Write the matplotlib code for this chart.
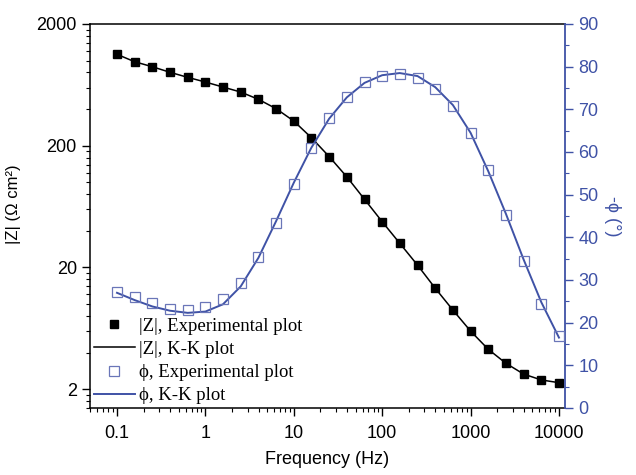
import matplotlib
matplotlib.use("Agg")
import matplotlib.pyplot as plt
from matplotlib.ticker import FixedLocator, NullFormatter, MultipleLocator
from matplotlib.lines import Line2D

# ---- data ----
freq = [0.1, 0.158, 0.251, 0.398, 0.631, 1.0, 1.58, 2.51, 3.98, 6.31,
        10.0, 15.8, 25.1, 39.8, 63.1, 100, 158, 251, 398, 631,
        1000, 1585, 2512, 3981, 6310, 10000]
z_exp = [1127, 980, 891, 802, 729, 667, 607, 552, 481, 403,
         319, 233, 163, 111, 72.6, 47.5, 31.6, 20.9, 13.5, 8.93,
         6.0, 4.25, 3.26, 2.66, 2.38, 2.26]
z_kk = [1127, 980, 891, 802, 729, 667, 607, 552, 481, 403,
        319, 233, 163, 111, 72.6, 47.5, 31.6, 20.9, 13.5, 8.93,
        6.0, 4.25, 3.26, 2.66, 2.38, 2.26]
phi_exp = [27.1, 25.9, 24.5, 23.2, 23.0, 23.6, 25.5, 29.2, 35.4, 43.4,
           52.5, 61.0, 67.9, 73.0, 76.3, 77.9, 78.3, 77.3, 74.8, 70.8,
           64.4, 55.8, 45.2, 34.4, 24.4, 16.9]
phi_kk = [27.0, 25.3, 23.8, 22.8, 22.3, 22.6, 24.3, 28.5, 35.2, 43.8,
          52.8, 61.0, 67.8, 72.8, 76.2, 78.0, 78.5, 77.8, 75.2, 71.0,
          64.5, 55.5, 45.5, 34.8, 24.8, 16.5]
x_ticks = [0.1, 1, 10, 100, 1000, 10000]
x_ticklabels = ["0.1", "1", "10", "100", "1000", "10000"]
z_ticks = [2, 20, 200, 2000]
z_ticklabels = ["2", "20", "200", "2000"]
phi_ticks = [0, 10, 20, 30, 40, 50, 60, 70, 80, 90]

legend_labels = ["|Z|, Experimental plot", "|Z|, K-K plot",
                 "\u03d5, Experimental plot", "\u03d5, K-K plot"]

BLUE = "#3f52a6"
SQ_BLUE = "#6a76b8"

plt.rcParams['font.family'] = ['Liberation Sans', 'DejaVu Sans']

fig = plt.figure(figsize=(6.36, 4.75), dpi=100)
ax = fig.add_axes([90/636, 1-408/475, (565-90)/636, (408-24)/475])
ax2 = ax.twinx()

ax.set_xscale("log")
ax.set_yscale("log")
ax.set_xlim(0.0495, 11700)
ax.set_ylim(1.40, 2000)
ax2.set_ylim(0, 90)

ax.plot(freq, z_kk, color="black", lw=1.1, zorder=2)
ax.plot(freq, z_exp, ls="none", marker="s", ms=6, mfc="black", mec="black", zorder=3)
ax2.plot(freq, phi_kk, color=BLUE, lw=1.4, zorder=2)
ax2.plot(freq, phi_exp, ls="none", marker="s", ms=6.5, mfc="none", mec=SQ_BLUE, mew=0.9, zorder=3)

# x axis
ax.xaxis.set_major_locator(FixedLocator(x_ticks))
ax.set_xticklabels(x_ticklabels)
xminor = [m * 10.0**e for e in range(-2, 5) for m in range(2, 10)]
ax.xaxis.set_minor_locator(FixedLocator(xminor))
ax.xaxis.set_minor_formatter(NullFormatter())
ax.tick_params(axis="x", which="major", direction="out", length=6, width=1, labelsize=13, pad=6)
ax.tick_params(axis="x", which="minor", direction="out", length=3, width=0.8)

# left y axis
ax.yaxis.set_major_locator(FixedLocator(z_ticks))
ax.set_yticklabels(z_ticklabels)
yminor = [m * 10.0**e for e in range(0, 4) for m in (0.4, 0.6, 0.8, 1.0, 1.2, 1.4, 1.6, 1.8)]
ax.yaxis.set_minor_locator(FixedLocator(yminor))
ax.yaxis.set_minor_formatter(NullFormatter())
ax.tick_params(axis="y", which="major", direction="out", length=6, width=1, labelsize=13)
ax.tick_params(axis="y", which="minor", direction="out", length=3, width=0.8)
ax.set_ylabel("|Z| (\u03a9 cm\u00b2)", fontsize=12, labelpad=2)
ax.yaxis.set_label_coords(-0.145, 0.53)
ax.set_xlabel("Frequency (Hz)", fontsize=13, labelpad=7)

# right y axis
ax2.yaxis.set_major_locator(FixedLocator(phi_ticks))
ax2.yaxis.set_minor_locator(MultipleLocator(5))
ax2.tick_params(axis="y", which="major", direction="out", length=6, width=1,
                labelsize=13, colors=BLUE)
ax2.tick_params(axis="y", which="minor", direction="out", length=3, width=0.8, colors=BLUE)
ax2.spines["right"].set_color(BLUE)
ax2.spines["right"].set_linewidth(1.3)
ax2.set_ylabel("-\u03d5 (\u00b0)", fontsize=13, color=BLUE, rotation=270, labelpad=16)
for side in ("left", "top", "bottom"):
    ax2.spines[side].set_visible(False)
for s in ax.spines.values():
    s.set_linewidth(1.1)
ax.spines["right"].set_visible(False)

handles = [
    Line2D([], [], ls="none", marker="s", ms=6, mfc="black", mec="black"),
    Line2D([], [], color="black", lw=1.1),
    Line2D([], [], ls="none", marker="s", ms=6.5, mfc="none", mec=SQ_BLUE, mew=0.9),
    Line2D([], [], color=BLUE, lw=1.4),
]
leg = ax2.legend(handles, legend_labels, loc="lower left", bbox_to_anchor=(0.0, 0.0),
                 frameon=False, prop={"family": ["Liberation Serif", "DejaVu Serif"], "size": 13.5},
                 handlelength=2.2, handletextpad=0.2, labelspacing=0.32,
                 borderaxespad=0.0, borderpad=0.2)

fig.savefig("out.png", dpi=100)
